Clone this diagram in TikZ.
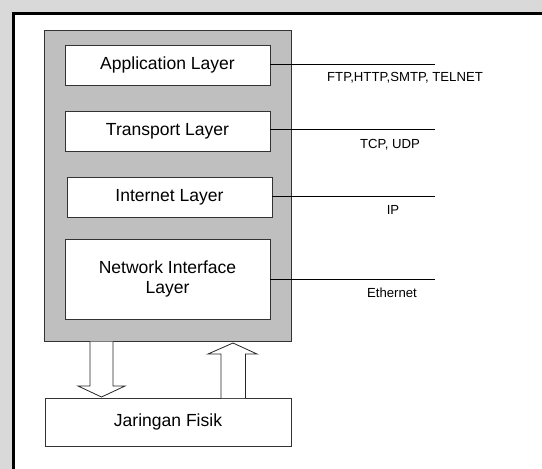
\documentclass[tikz,border=0pt]{standalone}
\usepackage{fontspec}
\setmainfont{Liberation Sans}
\begin{document}
\begin{tikzpicture}[x=1bp,y=-1bp,
  layerbox/.style={draw=black!80,fill=white,line width=0.9bp,inner sep=0pt,align=center,
    font=\fontsize{17.6}{21}\selectfont},
  proto/.style={inner sep=0pt,font=\fontsize{13.2}{15}\selectfont},
  link/.style={draw=black,line width=1bp},
  blockarrow/.style={draw=black!85,fill=white,line width=0.8bp,line join=miter}]
\useasboundingbox (0,0) rectangle (542,469);
\fill[black!15] (0,0) rectangle (542,469);
\fill[white] (12,12) rectangle (542,469);
\draw[line width=2.6bp] (13.3,469) -- (13.3,13.3) -- (542,13.3);
% stack
\node[draw=black!80,fill=black!25,line width=1bp,minimum width=246bp,minimum height=310bp,inner sep=0pt] (stack) at (168,186) {};
\node[layerbox,minimum width=205bp,minimum height=40bp] (app) at (167.5,65) {Application Layer};
\node[layerbox,minimum width=205bp,minimum height=40bp] (trans) at (167.5,131) {Transport Layer};
\node[layerbox,minimum width=205bp,minimum height=40bp] (inet) at (169.5,197) {Internet Layer};
\node[layerbox,minimum width=205bp,minimum height=80bp] (nil) at (167.5,279) {Network Interface\\[-0.5bp]Layer};
\node[layerbox,minimum width=246bp,minimum height=48bp] (fisik) at (168,422) {Jaringan Fisik};
% protocol lines
\coordinate (e1) at (435,65);
\coordinate (e2) at (435,130);
\coordinate (e3) at (435,197);
\coordinate (e4) at (435,279);
\draw[link] (app.east) -- (e1);
\draw[link] (trans.east |- e2) -- (e2);
\draw[link] (inet.east) -- (e3);
\draw[link] (nil.east) -- (e4);
\node[proto] (l1) at (405,78) {FTP,HTTP,SMTP, TELNET};
\node[proto] (l2) at (390,145) {TCP, UDP};
\node[proto] (l3) at (393,210) {IP};
\node[proto] (l4) at (392,293) {Ethernet};
% block arrows
\draw[blockarrow] (90,341.5) -- (90,386) -- (78,386) -- (101.5,397) -- (125,386) -- (113,386) -- (113,341.5);
\draw[blockarrow] (221,398) -- (221,354) -- (208,354) -- (233,343) -- (257,354) -- (245.5,354) -- (245.5,398);
\end{tikzpicture}
\end{document}
